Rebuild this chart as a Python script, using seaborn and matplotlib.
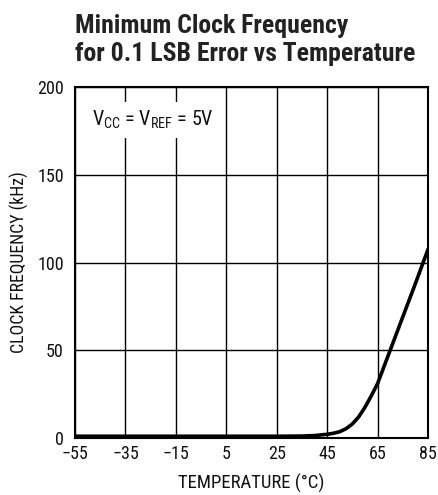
import matplotlib
matplotlib.use("Agg")
import matplotlib.pyplot as plt
import seaborn as sns
import pandas as pd

temps = [-55, -35, -15, 5, 25, 35, 40, 45, 47.5, 50, 52.5, 55, 57.5, 60, 62.5, 65, 70, 75, 80, 85]
freq = [1, 1, 1, 1, 1, 1.1, 1.4, 2.1, 2.7, 3.6, 5.3, 8.0, 12.0, 17.5, 24.0, 31.0, 50.0, 69.0, 88.0, 107.5]
x_ticks = [-55, -35, -15, 5, 25, 45, 65, 85]
y_ticks = [0, 50, 100, 150, 200]

sns.set_theme(style="white")
fam = ["Roboto Condensed", "DejaVu Sans"]
plt.rcParams["font.family"] = fam
plt.rcParams["mathtext.fontset"] = "custom"
plt.rcParams["mathtext.rm"] = "Roboto Condensed"

df = pd.DataFrame({"T": temps, "F": freq})

fig = plt.figure(figsize=(4.38, 4.95), dpi=100)
ax = fig.add_axes([75/438, 1-438/495, 353/438, 351/495])
sns.lineplot(data=df, x="T", y="F", ax=ax, color="black", linewidth=2.6)
ax.set_xlim(-55, 85)
ax.set_ylim(0, 200)
ax.set_xticks(x_ticks)
ax.set_yticks(y_ticks)
ax.set_xticklabels([f"\u2212{abs(v)}" if v < 0 else str(v) for v in x_ticks])
ax.grid(True, color="black", linewidth=1.0)
ax.set_axisbelow(True)
for s in ax.spines.values():
    s.set_color("black")
    s.set_linewidth(1.5)
ax.tick_params(axis="x", length=0, labelsize=13, colors="#111111", pad=5)
ax.tick_params(axis="y", length=0, labelsize=13, colors="#111111", pad=8)
ax.set_xlabel("TEMPERATURE (°C)", fontsize=13.5, color="#111111", labelpad=8)
ax.set_ylabel("CLOCK FREQUENCY (kHz)", fontsize=12.8, color="#111111", labelpad=6)
ax.text(-48.3, 181, r"V$_{\mathregular{CC}}$ = V$_{\mathregular{REF}}$ = 5V", fontsize=14.5,
        va="center", ha="left", color="#111111",
        bbox=dict(facecolor="white", edgecolor="none", pad=5))
fig.text(75/438, 1-14/495, "Minimum Clock Frequency\nfor 0.1 LSB Error vs Temperature",
         fontsize=18.5, fontweight="bold", ha="left", va="top", color="#222222", linespacing=1.22)
fig.savefig("out.png", dpi=100)
